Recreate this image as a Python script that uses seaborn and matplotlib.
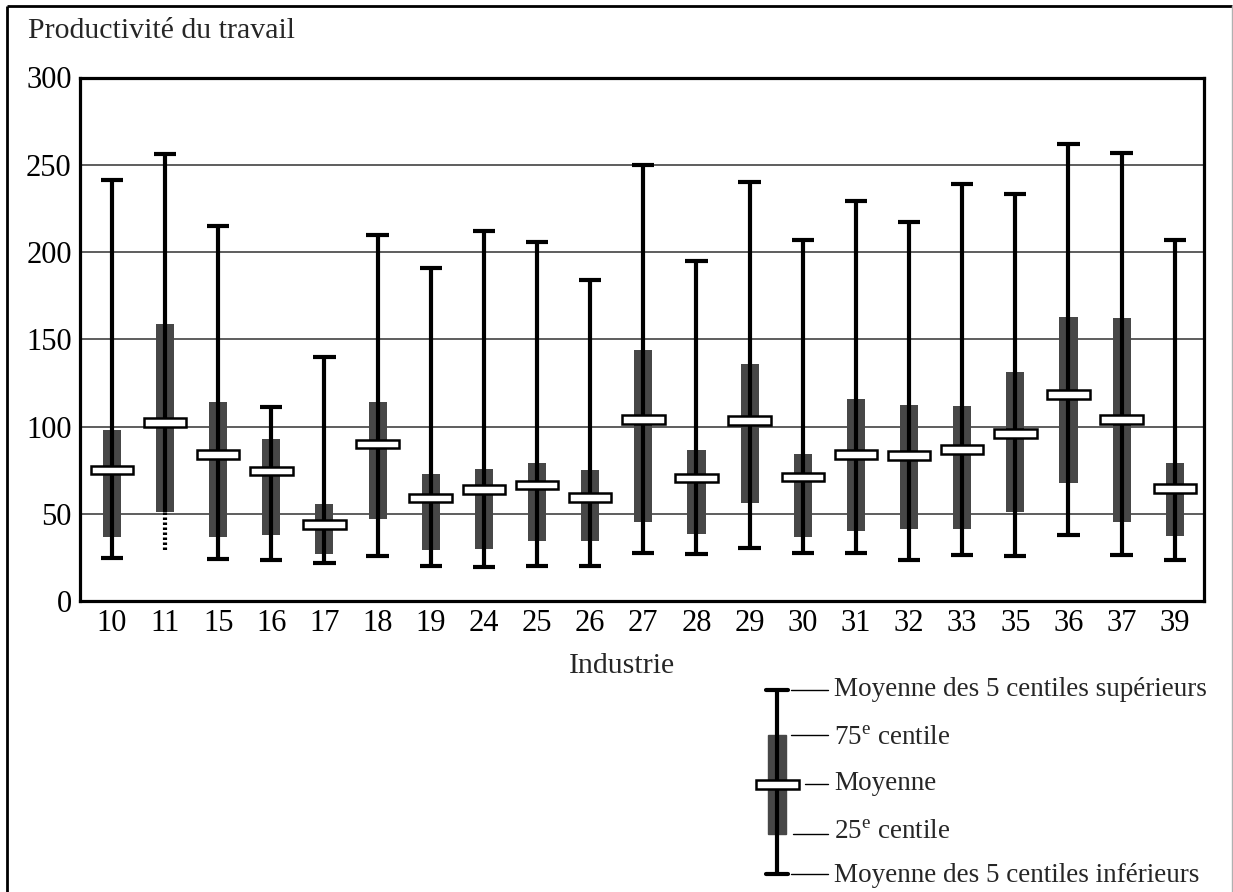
import numpy as np
import pandas as pd
import matplotlib
matplotlib.use("Agg")
import matplotlib.pyplot as plt
import seaborn as sns

# ---- data ----
industries = ["10", "11", "15", "16", "17", "18", "19", "24", "25", "26", "27",
              "28", "29", "30", "31", "32", "33", "35", "36", "37", "39"]
top5_mean = [241, 256, 215, 111, 140, 210, 191, 212, 206, 184, 250,
             195, 240, 207, 229, 217, 239, 233, 262, 257, 207]
p75 = [98, 159, 114, 93, 55.5, 114, 72.5, 75.5, 79, 75, 144,
       86.5, 136, 84.5, 115.5, 112.5, 111.5, 131.5, 162.5, 162, 79]
mean = [75, 102.5, 84, 74.5, 44, 90, 59, 64, 66.5, 59.5, 104,
        70.5, 103.5, 71, 84, 83.5, 87, 96, 118.5, 104, 64.5]
p25 = [36.5, 51, 36.5, 38, 27, 47, 29, 30, 34.5, 34.5, 45,
       38.5, 56, 36.5, 40, 41.5, 41.5, 51, 67.5, 45, 37]
bottom5_mean = [24.5, 29, 24, 23.5, 22, 26, 20, 19.5, 20, 20, 27.5,
                27, 30.5, 27.5, 27.5, 23.5, 26.5, 26, 38, 26.5, 23.5]
dotted_lower = ["11"]  # lower whisker drawn dotted, without cap

yticks = [0, 50, 100, 150, 200, 250, 300]
title = "Productivité du travail"
xlabel = "Industrie"
legend_labels = ["Moyenne des 5 centiles supérieurs", r"75$^{\mathrm{e}}$ centile",
                 "Moyenne", r"25$^{\mathrm{e}}$ centile",
                 "Moyenne des 5 centiles inférieurs"]

df = pd.DataFrame({"industrie": industries, "top": top5_mean, "p75": p75,
                   "mean": mean, "p25": p25, "bot": bottom5_mean})

# ---- style ----
sns.set_style("white")
plt.rcParams["font.family"] = ["Liberation Serif", "DejaVu Serif"]
plt.rcParams["mathtext.fontset"] = "custom"
plt.rcParams["mathtext.rm"] = "Liberation Serif"
plt.rcParams["mathtext.it"] = "Liberation Serif:italic"
plt.rcParams["mathtext.bf"] = "Liberation Serif:bold"

W, H = 1233, 892
DPI = 100
fig = plt.figure(figsize=(W / DPI, H / DPI), dpi=DPI)
fig.patch.set_facecolor("white")

ax = fig.add_axes([80 / W, 1 - 601 / H, (1204 - 80) / W, (601 - 77.5) / H])

BOXC = "#474747"
FS_TICK = 22
FS_TITLE = 21.5
FS_LEG = 19.5
x = np.arange(len(df))

# IQR boxes
ax.bar(x, df["p75"] - df["p25"], bottom=df["p25"], width=0.34,
       color=BOXC, linewidth=0, zorder=3)

# whiskers
solid = ~df["industrie"].isin(dotted_lower)
ax.vlines(x[solid], df["bot"][solid], df["top"][solid], color="black",
          linewidth=3.0, zorder=4)
ax.vlines(x[~solid], df["p25"][~solid], df["top"][~solid], color="black",
          linewidth=3.0, zorder=4)
ax.vlines(x[~solid], df["bot"][~solid], df["p25"][~solid], color="black",
          linewidth=3.0, linestyles=(0, (0.6, 0.6)), zorder=4)

# caps
ax.hlines(df["top"], x - 0.21, x + 0.21, color="black", linewidth=3.0, zorder=4)
ax.hlines(df["bot"][solid], x[solid] - 0.21, x[solid] + 0.21, color="black",
          linewidth=3.0, zorder=4)

# mean markers
ax.bar(x, 5.0, bottom=df["mean"] - 2.5, width=0.80, color="white",
       edgecolor="black", linewidth=1.8, zorder=5)

ax.set_xlim(-0.6, len(df) - 0.45)
ax.set_ylim(0, 300)
ax.set_yticks(yticks)
ax.set_yticklabels([str(t) for t in yticks], fontsize=FS_TICK)
ax.set_xticks(x)
ax.set_xticklabels(industries, fontsize=FS_TICK)
ax.tick_params(axis="both", length=0, pad=6, colors="black")
ax.set_xlabel("")
ax.set_ylabel("")
ax.yaxis.grid(True, color="#505050", linewidth=1.3, zorder=0)
ax.set_axisbelow(True)
for s in ax.spines.values():
    s.set_visible(True)
    s.set_color("black")
    s.set_linewidth(2.3)

# ---- overlay in pixel coordinates: title, xlabel, legend, frame ----
ov = fig.add_axes([0, 0, 1, 1], facecolor="none")
ov.set_xlim(0, W)
ov.set_ylim(H, 0)
ov.axis("off")

ov.text(28, 31, title, fontsize=FS_TITLE, ha="left", va="center")
ov.text(622, 666, xlabel, fontsize=FS_TITLE, ha="center", va="center")

# outer frame
ov.plot([6.5, 6.5], [5.5, H], color="black", linewidth=2.0, solid_capstyle="butt")
ov.plot([6.5, 1232], [5.5, 5.5], color="black", linewidth=2.0, solid_capstyle="butt")
ov.plot([1231.5, 1231.5], [5.5, H], color="#b0b0b0", linewidth=1.0)

# legend glyph
lx = 777
y_top, y75, y_mean, y25, y_bot = 690, 735, 784, 834, 874
ov.add_patch(plt.Rectangle((lx - 9, y75), 18, y25 - y75, color=BOXC, zorder=3))
ov.plot([lx, lx], [y_top, y_bot], color="black", linewidth=3.0, zorder=4)
ov.plot([lx - 11, lx + 11], [y_top, y_top], color="black", linewidth=3.0, zorder=4)
ov.plot([lx - 11, lx + 11], [y_bot, y_bot], color="black", linewidth=3.0, zorder=4)
ov.add_patch(plt.Rectangle((lx - 21.5, y_mean - 4.5), 43, 9, facecolor="white",
                           edgecolor="black", linewidth=1.8, zorder=5))
leader_y = [y_top, y75, y_mean, y25, y_bot]
text_y = [690, 737, 784, 831, 875]
leader_x0 = [791, 791, 805, 793, 791]
for ly, ty, lx0, lab in zip(leader_y, text_y, leader_x0, legend_labels):
    ov.plot([lx0, 828], [ly, ly], color="black", linewidth=1.0)
    ov.text(834, ty, lab, fontsize=FS_LEG, ha="left", va="center")

fig.savefig("out.png", dpi=DPI, facecolor="white")
